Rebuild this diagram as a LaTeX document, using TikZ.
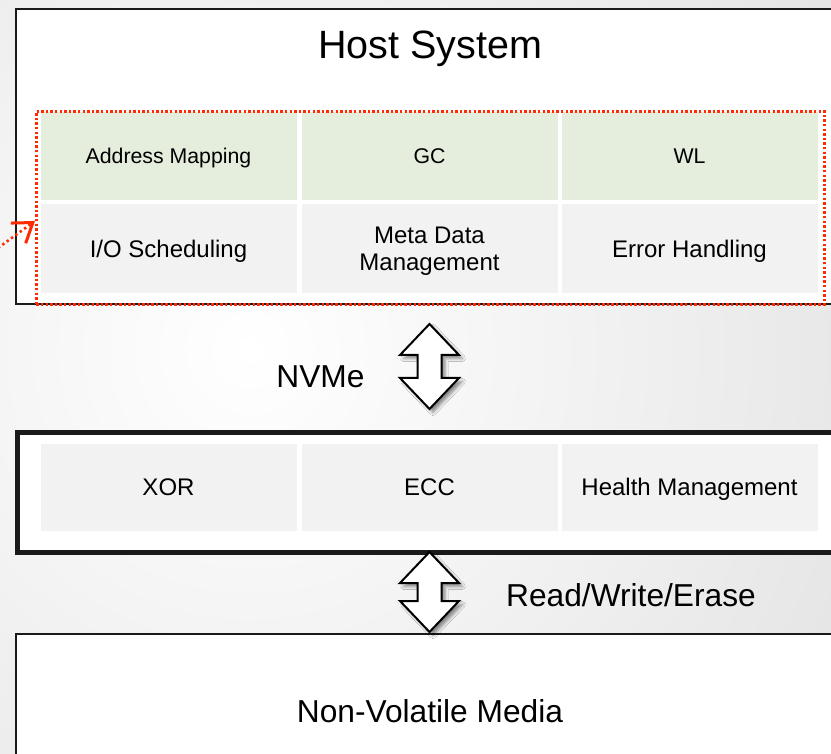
\documentclass[tikz,border=0pt]{standalone}
\usepackage{fontspec}
\setmainfont{Liberation Sans}
\usetikzlibrary{calc,arrows.meta,shadows.blur}

\definecolor{bgouter}{HTML}{D8D8D8}
\definecolor{frame}{HTML}{1A1A1A}
\definecolor{cellgreen}{HTML}{E5EEDC}
\definecolor{cellgray}{HTML}{F2F2F2}
\definecolor{marker}{HTML}{FF2A00}

\newcommand\fsz[1]{\fontsize{#1}{#1}\selectfont}

% double-headed block arrow between two named points (top tip, bottom tip)
\newcommand\blockarrow[2]{%
  \path[arrowbody] let \p1=(#1), \p2=(#2) in
    (\x1,\y1) -- (\x1+29.5pt,\y1-31pt) -- (\x1+12pt,\y1-31pt)
    -- (\x1+12pt,\y2+31pt) -- (\x1+29.5pt,\y2+31pt) -- (\x1,\y2)
    -- (\x1-29.5pt,\y2+31pt) -- (\x1-12pt,\y2+31pt)
    -- (\x1-12pt,\y1-31pt) -- (\x1-29.5pt,\y1-31pt) -- cycle;}

\tikzset{
  layerbox/.style={draw=frame, fill=white, line width=2.4pt, rectangle,
    anchor=north west, inner sep=0pt, minimum width=840pt},
  cellbox/.style={rectangle, inner sep=0pt, minimum width=256pt,
    text=black, align=center, text depth=0pt},
  greencell/.style={cellbox, fill=cellgreen, minimum height=88pt, font=\fsz{21.3}},
  graycell/.style={cellbox, fill=cellgray, minimum height=89pt, font=\fsz{24}},
  ctrlcell/.style={cellbox, fill=cellgray, minimum height=87pt, font=\fsz{24}},
  biglabel/.style={inner sep=0pt, font=\fsz{31.7}, text depth=0pt},
  arrowbody/.style={draw=black, fill=white, line width=2pt, line join=miter,
    blur shadow={shadow xshift=3.5pt, shadow yshift=-3.5pt,
      shadow blur radius=3pt, shadow opacity=45}},
  groupframe/.style={draw=marker, line width=2.6pt, dash pattern=on 2.4pt off 2.2pt},
}

\begin{document}
\begin{tikzpicture}[x=1pt,y=-1pt]
  \useasboundingbox (0,0) rectangle (831,754);
  \clip (0,0) rectangle (831,754);
  % backdrop
  \shade[inner color=white, outer color=bgouter] (-750,-650) rectangle (1250,1350);

  % host layer
  \node[layerbox, minimum height=295pt] (host) at (15,8) {};
  \node[inner sep=0pt, font=\fsz{39.5}, text depth=0pt] (hosttitle) at (430,45) {Host System};

  \node[greencell] (map) at (168.5,156) {Address Mapping};
  \node[greencell] (gc)  at (429.5,156) {GC};
  \node[greencell] (wl)  at (689.5,156) {WL};
  \node[graycell] (io)   at (168.5,249) {I/O Scheduling};
  \node[graycell] (meta) at (429.5,248.5) {Meta Data\\[3pt]Management};
  \node[graycell] (err)  at (689.5,249) {Error Handling};

  % dotted group around the host-side functions
  \node[groupframe, rectangle, inner sep=0pt, anchor=north west,
    minimum width=788pt, minimum height=193pt] (group) at (35,110) {};
  \coordinate (pointer) at (-2,248);
  \draw[marker, line width=2.6pt, dash pattern=on 2.4pt off 3pt,
    -{Straight Barb[length=18pt,width=25pt,line width=3pt]}]
    (pointer) -- (group.west |- 0,221);

  % controller layer
  \node[layerbox, line width=4.5pt, minimum height=120pt] (ctrl) at (15,430) {};
  \node[ctrlcell] (xor)    at (168.5,487) {XOR};
  \node[ctrlcell] (ecc)    at (429.5,487) {ECC};
  \node[ctrlcell] (health) at (689.5,487) {Health Management};

  % media layer
  \node[layerbox, minimum height=160pt] (media) at (15,633) {};
  \node[biglabel] (medialbl) at (430,711) {Non-Volatile Media};

  % interface arrows
  \coordinate (nvmeA) at (429.5,324);
  \coordinate (nvmeB) at (429.5,409);
  \blockarrow{nvmeA}{nvmeB}
  \node[biglabel] (nvme) at (320.5,377) {NVMe};

  \coordinate (rweA) at (429.5,552);
  \coordinate (rweB) at (429.5,632);
  \blockarrow{rweA}{rweB}
  \node[biglabel] (rwe) at (631,595) {Read/Write/Erase};
\end{tikzpicture}
\end{document}
